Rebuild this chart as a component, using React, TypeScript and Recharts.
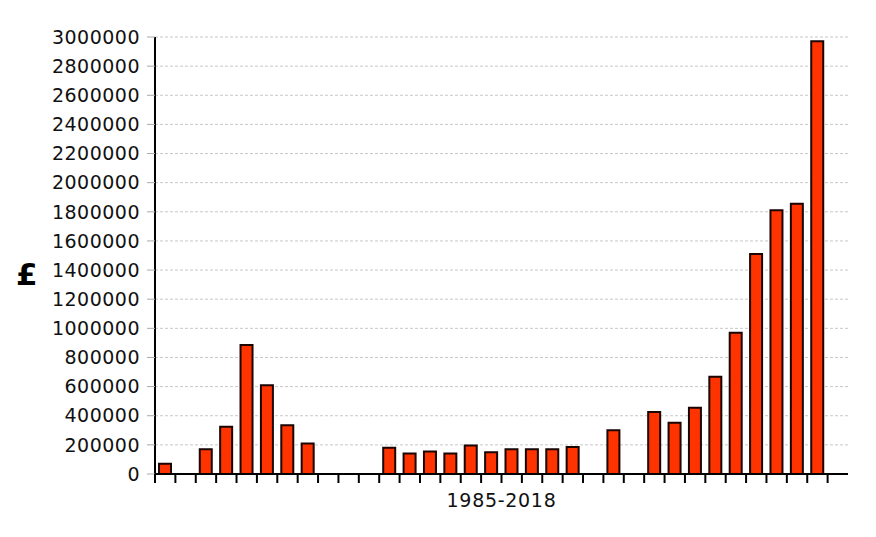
import { BarChart, Bar, XAxis, YAxis, CartesianGrid } from 'recharts';

const years = [
  '1985', '1986', '1987', '1988', '1989', '1990', '1991', '1992', '1993', '1994',
  '1995', '1996', '1997', '1998', '1999', '2000', '2001', '2002', '2003', '2004',
  '2005', '2006', '2007', '2008', '2009', '2010', '2011', '2012', '2013', '2014',
  '2015', '2016', '2017', '2018',
];

const amounts = [
  70000, 0, 170000, 325000, 885000, 610000, 335000, 210000, 0, 0,
  0, 180000, 140000, 155000, 140000, 195000, 150000, 170000, 170000, 170000,
  185000, 0, 300000, 0, 425000, 352000, 455000, 668000, 970000, 1510000,
  1810000, 1855000, 2970000, 0,
];

const yTicks = [
  0, 200000, 400000, 600000, 800000, 1000000, 1200000, 1400000, 1600000,
  1800000, 2000000, 2200000, 2400000, 2600000, 2800000, 3000000,
];

const data = years.map((year, i) => ({ year, amount: amounts[i] }));

const font = '"DejaVu Sans", Verdana, sans-serif';

// tick mark on the left edge of each year's band, no text
function EdgeTick(props: any) {
  const { x, y, payload } = props;
  const half = payload?.offset ?? 693 / 34 / 2;
  const lx = x - half;
  return <line x1={lx} x2={lx} y1={y} y2={y + 9} stroke="#000" strokeWidth={2} />;
}

export default function App() {
  return (
    <div style={{ position: 'absolute', left: 0, top: 0, background: '#fff' }}>
      <BarChart
        width={876}
        height={537}
        data={data}
        margin={{ top: 37, right: 28, left: 0, bottom: 0 }}
        barSize={12}
      >
        <CartesianGrid
          vertical={false}
          stroke="#c8c8c8"
          strokeDasharray="3 2"
          horizontalValues={yTicks}
        />
        <XAxis
          dataKey="year"
          height={63}
          axisLine={{ stroke: '#000', strokeWidth: 2 }}
          tickLine={false}
          tickSize={0}
          tickMargin={0}
          interval={0}
          tick={<EdgeTick />}
          label={{
            value: '1985-2018',
            position: 'insideTop',
            offset: 20,
            fontSize: 19,
            fill: '#111',
            fontFamily: font,
            letterSpacing: 0.7,
          }}
        />
        <YAxis
          width={155}
          domain={[0, 3000000]}
          ticks={yTicks}
          interval={0}
          axisLine={{ stroke: '#000', strokeWidth: 2 }}
          tickLine={{ stroke: '#aaa', strokeWidth: 1 }}
          tickSize={8}
          tickMargin={7}
          tick={{ fontSize: 19, fill: '#111', fontFamily: font, letterSpacing: 0.5 }}
          label={{
            value: '£',
            position: 'insideLeft',
            offset: 16,
            dy: 18,
            fontSize: 31,
            fontWeight: 'bold',
            fill: '#000',
            fontFamily: font,
          }}
        />
        <Bar
          dataKey="amount"
          fill="#ff3300"
          stroke="#1a0500"
          strokeWidth={2}
          isAnimationActive={false}
        />
      </BarChart>
    </div>
  );
}
